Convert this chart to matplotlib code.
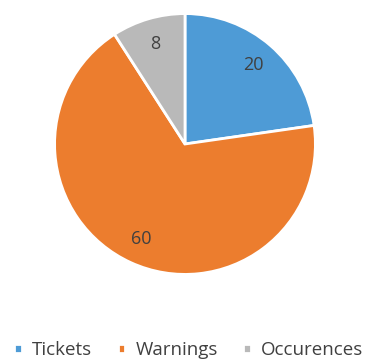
import matplotlib.pyplot as plt

# data
labels = ["Tickets", "Warnings", "Occurences"]
values = [20, 60, 8]
colors = ["#4e9bd6", "#ec7d2e", "#b9b9b9"]

plt.rcParams['font.family'] = ['Open Sans', 'DejaVu Sans']

fig = plt.figure(figsize=(3.70, 3.64), dpi=100)
ax = fig.add_axes([0.1405, 0.2389, 0.719, 0.731])

total = sum(values)
wedges, texts, autotexts = ax.pie(
    values, colors=colors, startangle=90, counterclock=False,
    autopct=lambda p: "%d" % round(p * total / 100.0), pctdistance=0.8,
    wedgeprops=dict(edgecolor="white", linewidth=2),
    textprops=dict(color="#404040", fontsize=13))
ax.set_xlim(-1.02, 1.02)
ax.set_ylim(-1.02, 1.02)
ax.set_aspect("equal")

fig.legend(wedges, labels, loc="center", bbox_to_anchor=(0.51, 0.038),
           ncol=3, frameon=False, handlelength=0.4, handleheight=0.4,
           handletextpad=0.55, columnspacing=1.35,
           prop=dict(size=13.5), labelcolor="#404040")

plt.savefig("out.png", dpi=100)
